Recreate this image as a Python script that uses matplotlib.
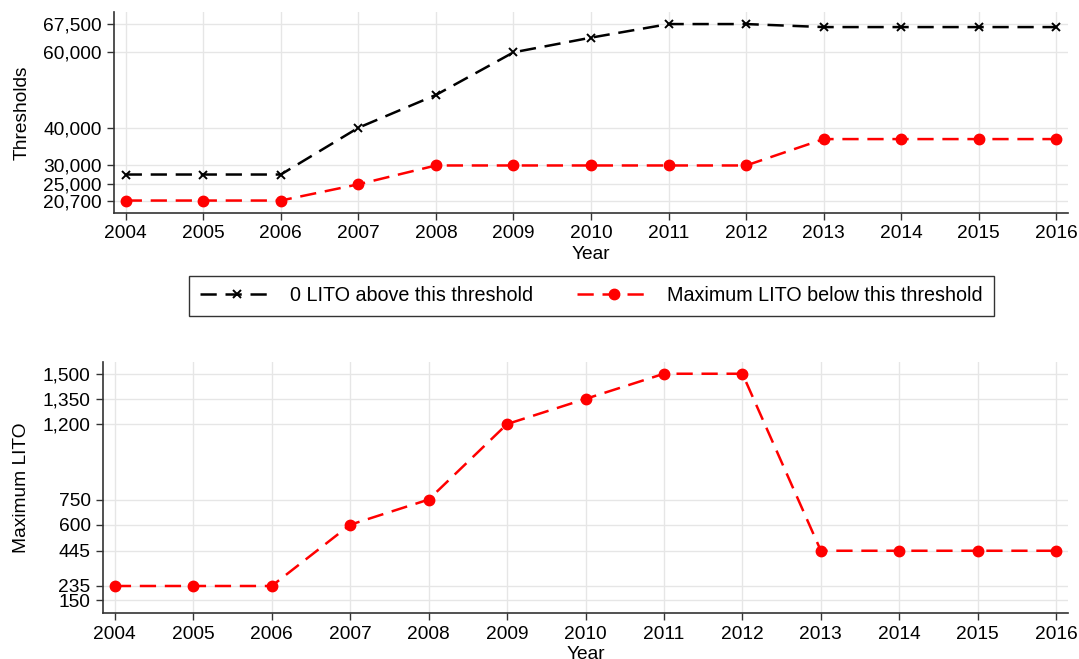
import matplotlib.pyplot as plt
from matplotlib.ticker import FuncFormatter

plt.rcParams['font.family'] = ['Liberation Sans', 'DejaVu Sans']

years = [2004, 2005, 2006, 2007, 2008, 2009, 2010, 2011, 2012, 2013, 2014, 2015, 2016]
# top panel: thresholds
zero_lito_above = [27600, 27600, 27600, 40000, 48700, 60000, 63900, 67500, 67500, 66700, 66700, 66700, 66700]
max_lito_below = [20700, 20700, 20700, 25000, 30000, 30000, 30000, 30000, 30000, 37000, 37000, 37000, 37000]
top_yticks = [20700, 25000, 30000, 40000, 60000, 67500]
# bottom panel: maximum LITO
max_lito = [235, 235, 235, 600, 750, 1200, 1350, 1500, 1500, 445, 445, 445, 445]
bottom_yticks = [150, 235, 445, 600, 750, 1200, 1350, 1500]

fs = 13.8
comma = FuncFormatter(lambda v, p: f'{v:,.0f}')


def style_axes(ax, yticks, ylabel, ypad):
    ax.set_xticks(years)
    ax.set_yticks(yticks)
    ax.yaxis.set_major_formatter(comma)
    ax.set_xlim(2003.85, 2016.15)
    ax.grid(True, color='#e6e6e6', lw=1)
    ax.set_axisbelow(True)
    for s in ['top', 'right']:
        ax.spines[s].set_visible(False)
    for s in ['left', 'bottom']:
        ax.spines[s].set_color('#333333')
        ax.spines[s].set_linewidth(1.2)
    ax.tick_params(labelsize=fs, length=5, width=1, color='#333333')
    ax.tick_params(axis='x', pad=4)
    ax.tick_params(axis='y', pad=4)
    ax.set_xlabel('Year', fontsize=fs, labelpad=2.5)
    ax.set_ylabel(ylabel, fontsize=fs, labelpad=ypad)


fig = plt.figure(figsize=(10.79, 6.59), dpi=100)
ax1 = fig.add_axes([0.1057, 0.6768, 0.8841, 0.3050])
ax2 = fig.add_axes([0.0955, 0.0698, 0.8943, 0.3809])

l1, = ax1.plot(years, zero_lito_above, color='black', lw=1.8, dashes=(6.5, 3.5),
               marker='x', ms=5.5, mew=1.4, label='0 LITO above this threshold')
l2, = ax1.plot(years, max_lito_below, color='#ff0000', lw=1.8, dashes=(6.5, 3.5),
               marker='o', ms=7.5, label='Maximum LITO below this threshold')
ax1.set_ylim(17400, 70700)
style_axes(ax1, top_yticks, 'Thresholds', 8.5)

ax2.plot(years, max_lito, color='#ff0000', lw=1.8, dashes=(6.5, 3.5), marker='o', ms=7.5)
ax2.set_ylim(74, 1570)
style_axes(ax2, bottom_yticks, 'Maximum LITO', 9)

leg = fig.legend(handles=[l1, l2], loc='center', bbox_to_anchor=(0.548, 0.551), ncol=2,
                 fontsize=14.2, frameon=True, fancybox=False, edgecolor='black',
                 handlelength=3.8, handletextpad=0.8, columnspacing=2.2,
                 borderpad=0.55, borderaxespad=0)
leg.get_frame().set_linewidth(1)

fig.savefig('out.png', dpi=100)
